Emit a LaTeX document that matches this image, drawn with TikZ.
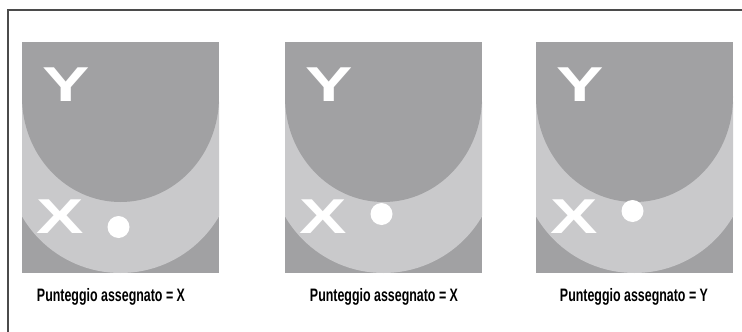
\documentclass[tikz,border=0pt]{standalone}
\usepackage{fontspec}
\setmainfont{Liberation Sans}
\usepackage{graphicx}
\definecolor{darkgr}{RGB}{161,161,163}
\definecolor{lightgr}{RGB}{201,201,203}
\definecolor{framegr}{RGB}{75,75,75}

\tikzset{
    bigletter/.style={text=white, inner sep=0pt, font=\fontsize{49}{49}\selectfont\bfseries},
    scorelabel/.style={inner sep=0pt, font=\fontsize{18}{18}\selectfont\bfseries}
}

\begin{document}
\begin{tikzpicture}[x=1pt, y=-1pt]
            \useasboundingbox (0,0) rectangle (742,332);
            \draw[framegr, line width=1.4pt] (8,332) -- (8,10) -- (742,10);

            \foreach \L/\dy/\tx/\res [count=\i] in {22/227/111/X, 285/214/384/X, 536/211/634/Y} {
                \begin{scope}
                    \clip (\L,42) rectangle ++(197,231);
                    \fill[darkgr] (\L,42) rectangle ++(197,231);
                    \fill[lightgr] (\L+98.5,159) circle (114);
                    \fill[darkgr] (\L,42) rectangle (\L+197,97);
                    \fill[darkgr] (\L+98.5,97) ellipse [x radius=98.5, y radius=105];
                \end{scope}
                \node[bigletter] (Y\i) at (\L+44,85) {\scalebox{1.45}[1]{Y}};
                \node[bigletter] (X\i) at (\L+38,217) {\scalebox{1.45}[1]{X}};
                \node[circle, fill=white, minimum size=22pt, inner sep=0pt] (dot\i) at (\L+96.5,\dy) {};
                \node[scorelabel] (lab\i) at (\tx,297) {\scalebox{0.69}[1]{Punteggio assegnato = \res}};
            }
        \end{tikzpicture}
\end{document}
